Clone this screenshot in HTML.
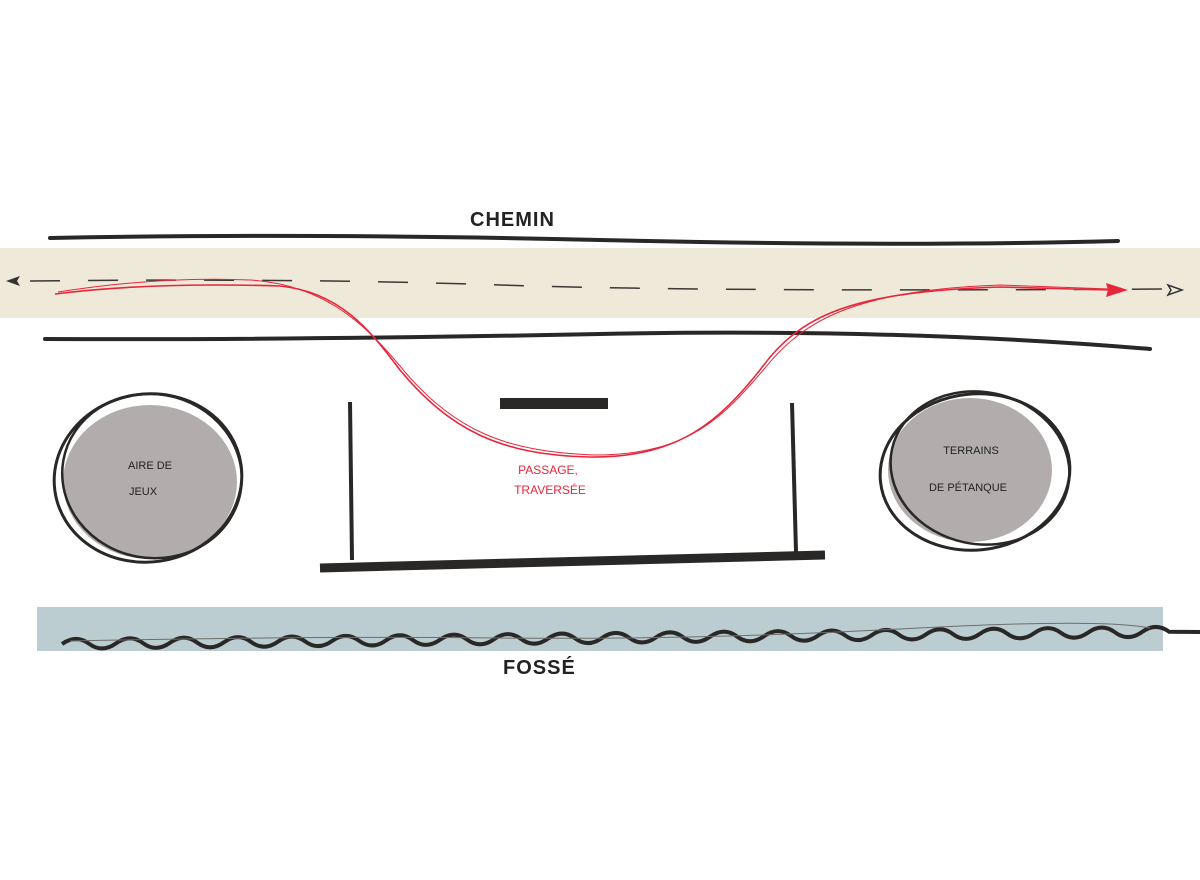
<!DOCTYPE html>
<html><head><meta charset="utf-8"><style>
html,body{margin:0;padding:0;background:#fff;}
svg{display:block;}
text{font-family:"Liberation Sans",sans-serif;}
</style></head><body>
<svg width="1200" height="880" viewBox="0 0 1200 880">
<rect x="0" y="248" width="1200" height="70" fill="#efe9da"/>
<rect x="37" y="607" width="1126" height="44" fill="#bccdd2"/>
<path d="M50,238 Q300,233 600,240 T1118,241" stroke="#2a2826" stroke-width="4" fill="none" stroke-linecap="round"/>
<path d="M45,339 Q300,340 600,334 T1150,349" stroke="#2a2826" stroke-width="4" fill="none" stroke-linecap="round"/>
<path d="M30,281 Q300,278 500,285 T1165,289" stroke="#3a3836" stroke-width="1.5" fill="none" stroke-dasharray="30,28"/>
<path d="M6,281 l14,-5 l-3,5 l3,5 z" fill="#333"/>
<path d="M1182,290 l-14,-5 l3,5 l-3,5 z" fill="none" stroke="#333" stroke-width="1.5"/>
<path d="M55,294 Q150,282 280,286 C340,292 370,330 400,370 C450,430 500,455 590,457 C680,458 720,420 760,370 C800,315 850,292 1000,287 L1110,290" stroke="#e8263b" stroke-width="1.6" fill="none"/>
<path d="M58,292 Q160,276 250,280 C330,285 370,330 405,372 C455,430 505,452 595,455 C690,455 725,415 765,368 C805,318 860,290 1000,285 L1110,289" stroke="#e8263b" stroke-width="1" fill="none"/>
<path d="M1128,290 l-22,-7 l2,7 l-2,7 z" fill="#e8263b"/>
<ellipse cx="150" cy="482" rx="87" ry="77" fill="#b3acad"/>
<ellipse cx="148" cy="478" rx="94" ry="84" fill="none" stroke="#2a2826" stroke-width="3" transform="rotate(-8 148 478)"/>
<ellipse cx="152" cy="476" rx="90" ry="82" fill="none" stroke="#2a2826" stroke-width="2.5" transform="rotate(10 152 476)"/>
<text x="150" y="469" font-size="11" text-anchor="middle" fill="#222">AIRE  DE</text>
<text x="143" y="495" font-size="11" text-anchor="middle" fill="#222">JEUX</text>
<ellipse cx="970" cy="470" rx="82" ry="72" fill="#b3acad"/>
<ellipse cx="975" cy="472" rx="95" ry="78" fill="none" stroke="#2a2826" stroke-width="3" transform="rotate(-6 975 472)"/>
<ellipse cx="980" cy="468" rx="90" ry="76" fill="none" stroke="#2a2826" stroke-width="2.5" transform="rotate(12 980 468)"/>
<text x="971" y="454" font-size="11" text-anchor="middle" fill="#222">TERRAINS</text>
<text x="968" y="491" font-size="11" text-anchor="middle" fill="#222">DE  PÉTANQUE</text>
<rect x="500" y="398" width="108" height="11" fill="#2a2826"/>
<line x1="350" y1="402" x2="352" y2="560" stroke="#2a2826" stroke-width="4"/>
<line x1="792" y1="403" x2="796" y2="552" stroke="#2a2826" stroke-width="4"/>
<path d="M320,568 L825,555" stroke="#2a2826" stroke-width="9"/>
<text x="548" y="474" font-size="12" text-anchor="middle" fill="#e8263b">PASSAGE,</text>
<text x="550" y="494" font-size="12" text-anchor="middle" fill="#e8263b">TRAVERSÉE</text>
<path d="M62,644 q14,-10 27,-0.3 t27,-0.3 t27,-0.3 t27,-0.3 t27,-0.3 t27,-0.3 t27,-0.3 t27,-0.3 t27,-0.3 t27,-0.3 t27,-0.3 t27,-0.3 t27,-0.3 t27,-0.3 t27,-0.3 t27,-0.3 t27,-0.3 t27,-0.3 t27,-0.3 t27,-0.3 t27,-0.3 t27,-0.3 t27,-0.3 t27,-0.3 t27,-0.3 t27,-0.3 t27,-0.3 t27,-0.3 t27,-0.3 t27,-0.3 t27,-0.3 t27,-0.3 t27,-0.3 t27,-0.3 t27,-0.3 t27,-0.3 t27,-0.3 t27,-0.3 t27,-0.3 t27,-0.3 t27,-0.3 L1200,632" stroke="#2a2826" stroke-width="4" fill="none"/>
<path d="M70,641 Q300,636 500,638 T900,629 T1150,628" stroke="#6b6e6c" stroke-width="1" fill="none"/>
<text x="470" y="226" font-size="20" font-weight="bold" fill="#222" letter-spacing="1">CHEMIN</text>
<text x="503" y="674" font-size="20" font-weight="bold" fill="#222" letter-spacing="1">FOSSÉ</text>
</svg>
</body></html>
